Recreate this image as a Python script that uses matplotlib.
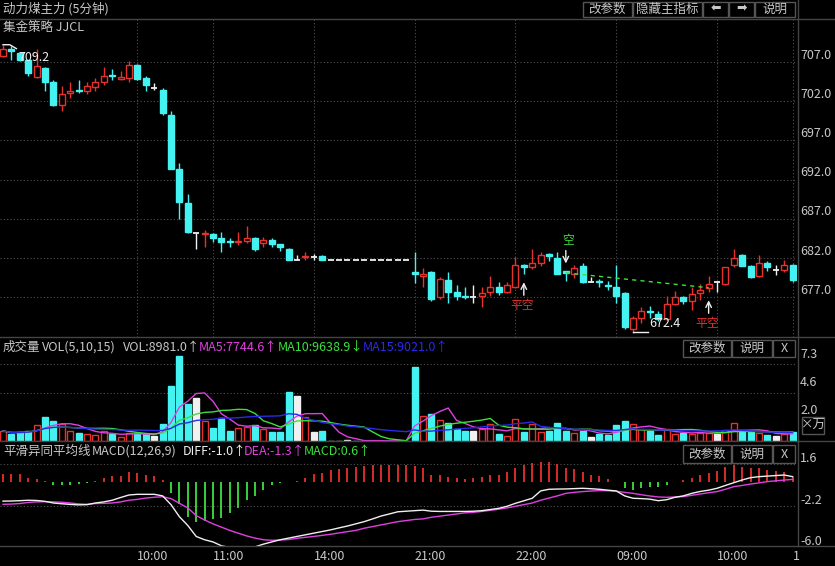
import matplotlib
matplotlib.use("Agg")
import matplotlib.pyplot as plt
import numpy as np
import pandas as pd
from matplotlib.patches import Rectangle
from matplotlib.lines import Line2D
from matplotlib.transforms import blended_transform_factory

plt.rcParams['font.family'] = ['Noto Sans CJK SC', 'DejaVu Sans']

# 5-minute bars
opens = [707.7, 708.6, 708.2, 707.2, 705.1, 706.2, 704.4, 701.5, 703.0, 703.4,
         703.3, 703.8, 704.5, 705.3, 704.8, 704.9, 706.6, 705.0, 703.7, 703.4,
         700.2, 693.4, 689.0, 685.2, 685.0, 685.0, 684.5, 684.2, 684.0, 684.2,
         684.6, 683.9, 684.3, 683.8, 683.1, 681.7, 682.1, 682.1, 682.2, 681.7,
         681.7, 681.7, 681.7, 681.7, 681.7, 681.7, 681.7, 681.7, 681.7, 680.2,
         679.7, 680.2, 677.0, 679.2, 677.6, 677.2, 677.0, 677.2, 677.6, 678.3,
         677.6, 678.3, 681.1, 680.8, 681.4, 682.5, 682.0, 680.3, 680.0, 681.0,
         678.9, 679.0, 678.6, 678.3, 677.5, 673.0, 674.3, 675.3, 674.9, 674.2,
         676.1, 677.0, 676.5, 677.5, 678.2, 678.9, 678.7, 681.1, 682.4, 681.0,
         679.7, 681.4, 680.5, 680.5, 681.1]
highs = [709.2, 709.0, 708.3, 707.3, 708.6, 706.3, 704.7, 703.9, 704.4, 704.7,
         704.5, 704.9, 706.3, 706.1, 705.8, 707.1, 706.7, 705.2, 704.3, 703.7,
         700.7, 694.1, 690.2, 685.2, 685.6, 685.2, 685.3, 684.5, 685.3, 686.1,
         684.7, 684.7, 684.6, 683.8, 683.3, 682.4, 682.8, 682.5, 682.4, 681.7,
         681.7, 681.7, 681.7, 681.7, 681.7, 681.7, 681.7, 681.7, 681.7, 682.8,
         680.7, 680.3, 679.6, 680.2, 678.5, 678.3, 678.5, 678.3, 679.7, 678.9,
         678.9, 682.1, 681.2, 683.2, 682.8, 682.6, 682.8, 680.3, 681.1, 681.3,
         679.6, 679.3, 679.0, 681.1, 677.6, 674.6, 675.7, 675.9, 675.2, 677.1,
         677.8, 677.2, 678.3, 678.7, 679.7, 678.9, 680.9, 683.1, 682.5, 681.1,
         682.4, 681.6, 681.1, 681.7, 681.2]
lows = [707.6, 707.3, 707.1, 705.2, 705.0, 703.3, 701.4, 700.8, 702.4, 703.0,
        702.9, 703.3, 704.1, 704.7, 704.7, 704.4, 704.7, 703.3, 703.4, 700.2,
        693.3, 687.0, 685.2, 683.2, 683.4, 684.0, 682.8, 683.4, 683.6, 683.9,
        682.9, 683.4, 683.4, 682.9, 681.7, 681.7, 681.8, 681.7, 681.8, 681.7,
        681.7, 681.7, 681.7, 681.7, 681.7, 681.7, 681.7, 681.7, 681.7, 678.8,
        678.3, 676.5, 676.8, 676.2, 676.6, 676.8, 676.2, 675.7, 677.1, 677.3,
        677.5, 678.2, 680.0, 680.6, 681.0, 681.6, 680.0, 679.0, 679.4, 678.8,
        678.9, 678.3, 677.9, 676.2, 673.0, 672.4, 673.7, 674.4, 674.0, 674.1,
        676.0, 676.1, 675.4, 676.6, 677.7, 677.6, 678.6, 680.8, 681.0, 679.5,
        679.6, 680.3, 679.8, 680.2, 678.9]
closes = [708.6, 708.4, 707.2, 705.6, 706.5, 704.5, 701.5, 702.9, 703.3, 703.3,
          703.9, 704.5, 705.2, 705.2, 705.1, 706.6, 704.8, 704.0, 703.7, 700.5,
          693.4, 689.2, 685.3, 685.2, 685.2, 684.6, 684.0, 684.0, 684.2, 684.6,
          683.2, 684.3, 683.8, 683.4, 681.7, 681.7, 682.2, 682.1, 681.8, 681.7,
          681.7, 681.7, 681.7, 681.7, 681.7, 681.7, 681.7, 681.7, 681.7, 680.0,
          680.0, 676.8, 679.3, 677.6, 677.2, 677.0, 677.0, 677.5, 678.3, 677.6,
          678.5, 681.1, 680.8, 681.4, 682.4, 682.2, 680.0, 680.1, 680.7, 678.9,
          678.9, 678.9, 678.4, 677.2, 673.2, 674.3, 675.3, 675.1, 674.2, 676.1,
          677.0, 676.5, 677.4, 677.9, 678.7, 678.9, 680.8, 682.0, 681.0, 679.6,
          681.3, 680.8, 680.5, 681.1, 679.2]

# volume in 万 (10k lots)
volumes = [0.95, 0.67, 0.81, 0.95, 1.52, 2.26, 1.90, 1.59, 0.95, 0.79,
           0.67, 0.57, 0.95, 0.67, 0.35, 0.79, 0.79, 0.67, 0.48, 1.62,
           5.27, 8.10, 3.50, 4.12, 1.90, 1.27, 2.16, 0.98, 1.27, 1.36,
           1.52, 1.14, 0.89, 0.89, 4.64, 4.29, 2.31, 0.89, 0.95, 0.02,
           0.03, 0.10, 0.01, 0.02, 0.01, 0.02, 0.01, 0.02, 0.03, 7.08,
           2.38, 2.57, 2.00, 1.69, 1.14, 0.95, 0.95, 1.14, 1.59, 0.67,
           0.48, 2.07, 0.89, 1.59, 0.89, 0.95, 1.69, 0.95, 0.79, 0.95,
           0.41, 0.67, 0.57, 1.52, 1.90, 1.59, 1.14, 0.98, 0.57, 1.14,
           0.67, 0.79, 0.67, 0.79, 0.79, 0.67, 1.05, 1.69, 0.89, 0.89,
           0.79, 0.57, 0.48, 0.67, 0.90]

diff = [-1.78, -1.77, -1.74, -1.70, -1.72, -1.80, -1.95, -2.02, -2.08, -2.12,
        -2.10, -1.95, -1.85, -1.70, -1.45, -1.22, -1.16, -1.16, -1.16, -1.30,
        -2.10, -3.20, -4.00, -5.00, -5.30, -5.50, -5.85, -6.00, -6.10, -6.10,
        -5.95, -5.70, -5.50, -5.30, -5.15, -5.00, -4.85, -4.70, -4.55, -4.40,
        -4.22, -4.05, -3.85, -3.65, -3.40, -3.14, -2.95, -2.75, -2.70, -2.65,
        -2.60, -2.70, -2.72, -2.72, -2.72, -2.72, -2.70, -2.65, -2.55, -2.44,
        -2.25, -1.98, -1.75, -1.52, -0.85, -0.70, -0.68, -0.67, -0.64, -0.61,
        -0.65, -0.70, -0.78, -0.85, -1.30, -1.52, -1.55, -1.60, -1.74, -1.65,
        -1.43, -1.30, -1.07, -0.90, -0.78, -0.61, -0.35, -0.10, 0.15, 0.36,
        0.45, 0.50, 0.55, 0.60, 0.45]
dea = [-2.07, -2.05, -2.00, -1.90, -1.85, -1.83, -1.85, -1.88, -1.95, -2.03,
       -2.07, -2.00, -1.98, -1.95, -1.85, -1.70, -1.62, -1.50, -1.43, -1.38,
       -1.55, -1.98, -2.40, -3.10, -3.50, -3.85, -4.15, -4.45, -4.70, -4.95,
       -5.15, -5.30, -5.35, -5.32, -5.28, -5.17, -5.08, -5.00, -4.90, -4.80,
       -4.68, -4.56, -4.45, -4.25, -4.10, -3.95, -3.80, -3.65, -3.55, -3.45,
       -3.40, -3.25, -3.15, -3.05, -2.95, -2.85, -2.80, -2.72, -2.62, -2.52,
       -2.40, -2.25, -2.10, -1.95, -1.70, -1.50, -1.30, -1.07, -0.98, -0.91,
       -0.86, -0.82, -0.83, -0.88, -0.98, -1.07, -1.20, -1.31, -1.40, -1.43,
       -1.40, -1.37, -1.25, -1.13, -1.02, -0.91, -0.70, -0.46, -0.35, -0.22,
       -0.12, 0.00, 0.07, 0.14, 0.20]
macd = [0.67, 0.67, 0.67, 0.36, 0.20, 0.06, -0.33, -0.33, -0.30, -0.18,
        -0.09, 0.06, 0.30, 0.50, 0.50, 0.88, 0.82, 0.58, 0.50, 0.10,
        -1.00, -2.07, -3.20, -3.70, -3.60, -3.45, -3.36, -2.90, -2.40, -1.70,
        -1.30, -0.80, -0.33, -0.09, -0.03, 0.06, 0.36, 0.67, 0.76, 1.03,
        1.12, 1.27, 1.33, 1.42, 1.48, 1.50, 1.50, 1.50, 1.50, 1.45,
        1.20, 0.64, 0.60, 0.45, 0.33, 0.24, 0.30, 0.40, 0.60, 0.64,
        0.85, 1.25, 1.50, 1.70, 1.82, 1.76, 1.60, 1.20, 1.15, 0.85,
        0.64, 0.48, 0.24, -0.06, -0.60, -0.73, -0.60, -0.52, -0.52, -0.30,
        -0.06, 0.10, 0.30, 0.60, 0.80, 1.00, 1.30, 1.50, 1.36, 1.25,
        1.20, 1.06, 0.94, 0.85, 0.40]

price_ticks = [707.0, 702.0, 697.0, 692.0, 687.0, 682.0, 677.0]
vol_ticks = [7.3, 4.6, 2.0]
macd_ticks = [1.6, -2.2, -6.0]
xtick_idx = [16, 25, 37, 49, 61, 73, 85, 94]
xtick_lab = ['10:00', '11:00', '14:00', '21:00', '22:00', '09:00', '10:00', '1']

sig_idx = [62, 67, 84]
sig_txt = ['平空', '空', '平空']
sig_dir = [1, -1, 1]   # 1 = buy-to-cover arrow below, -1 = short arrow above

RED = '#e8302c'
CYAN = '#45f2f2'
WHITE = '#f0f0f0'
MAG = '#e040e0'
GRN = '#3ce03c'
BLU = '#2a2ae8'
TXT = '#c8c8c8'
LINE = '#444444'
GRID = '#505050'

W, H = 835, 566
fig = plt.figure(figsize=(W / 100, H / 100), dpi=100, facecolor='black')


def fx(px):
    return px / W


def fy(py):
    return 1 - py / H


ax = fig.add_axes([0, fy(337), fx(797), (337 - 19) / H])
axv = fig.add_axes([0, fy(441), fx(797), (441 - 337) / H])
axm = fig.add_axes([0, fy(546), fx(797), (546 - 441) / H])
for a in (ax, axv, axm):
    a.set_facecolor('black')
    for s in a.spines.values():
        s.set_visible(False)
    a.set_xticks([])
    a.set_yticks([])
    a.set_xlim(-0.357, 94.52)

ax.set_ylim(671.92, 712.48)
axv.set_ylim(0, 104 / 10.5)
axm.set_ylim(-5.87, 3.70)

n = len(closes)
x = np.arange(n)
bw = 0.72

# grids
for p in price_ticks:
    ax.axhline(p, color=GRID, ls=(0, (1, 2)), lw=0.8, zorder=0)
for i in xtick_idx:
    ax.axvline(i, color=GRID, ls=(0, (1, 2)), lw=0.8, zorder=0)
for v in vol_ticks[:2]:
    axv.axhline(v, color=GRID, ls=(0, (1, 2)), lw=0.8, zorder=0)
for v in macd_ticks[:2]:
    axm.axhline(v, color=GRID, ls=(0, (1, 2)), lw=0.8, zorder=0)


def bar_color(i):
    if closes[i] > opens[i]:
        return RED
    if closes[i] < opens[i]:
        return CYAN
    return WHITE


# candles
for i in range(n):
    o, h, l, c = opens[i], highs[i], lows[i], closes[i]
    col = bar_color(i)
    top, bot = max(o, c), min(o, c)
    if h > top:
        ax.vlines(i, top, h, color=col, lw=1, zorder=2)
    if l < bot:
        ax.vlines(i, l, bot, color=col, lw=1, zorder=2)
    if c == o:
        ax.hlines(o, i - bw / 2, i + bw / 2, color=col, lw=1.3, zorder=3)
    else:
        face = 'black' if c > o else col
        ax.add_patch(Rectangle((i - bw / 2, bot), bw, top - bot, facecolor=face,
                               edgecolor=col, lw=1, zorder=3))

# high / low markers
hi = int(np.argmax(highs))
lo = int(np.argmin(lows))
ax.plot([hi, hi + 0.8, hi + 1.6], [highs[hi], highs[hi], highs[hi] - 0.5], color=WHITE, lw=1, zorder=4)
ax.text(hi + 1.8, highs[hi] - 1.6, f'{highs[hi]:.1f}', color=WHITE, fontsize=9, va='center', ha='left', zorder=5)
ax.plot([lo, lo + 1.8], [lows[lo] + 0.15, lows[lo] + 0.15], color=WHITE, lw=1, zorder=4)
ax.text(lo + 1.9, lows[lo] + 1.2, f'{lows[lo]:.1f}', color=WHITE, fontsize=9, va='center', ha='left', zorder=5)

# signals
for i, t, d in zip(sig_idx, sig_txt, sig_dir):
    if d == 1:
        tip = lows[i] - 1.1
        base = tip - 1.65
        tcol = RED
    else:
        tip = highs[i] + 1.0
        base = tip + 1.65
        tcol = GRN
    ax.annotate('', xy=(i, tip), xytext=(i, base),
                arrowprops=dict(arrowstyle='->', color=WHITE, lw=1, shrinkA=0, shrinkB=0), zorder=5)
    ax.text(i - 0.2 * d, base - 1.25 * d, t, color=tcol, fontsize=8.5, ha='center', va='center', zorder=5)

ax.plot([sig_idx[1], sig_idx[2]], [closes[sig_idx[1]], opens[sig_idx[2]]],
        color=GRN, ls=(0, (3, 3)), lw=1, zorder=4)

# price labels
for p in price_ticks:
    ax.annotate(f'{p:.1f}', xy=(1.004, p), xycoords=('axes fraction', 'data'),
                xytext=(0, 5), textcoords='offset points', color=TXT, fontsize=9,
                va='center', ha='left', annotation_clip=False)

# volume
for i in range(n):
    col = bar_color(i)
    face = 'black' if col == RED else col
    axv.add_patch(Rectangle((i - bw / 2, 0), bw, volumes[i], facecolor=face,
                            edgecolor=col, lw=1, zorder=2))
vs = pd.Series(volumes)
for w, col in [(5, MAG), (10, GRN), (15, BLU)]:
    axv.plot(x, vs.rolling(w, min_periods=1).mean(), color=col, lw=1, zorder=3)
for v in vol_ticks:
    axv.annotate(f'{v:.1f}', xy=(1.004, v), xycoords=('axes fraction', 'data'),
                 xytext=(0, 7), textcoords='offset points', color=TXT, fontsize=9,
                 va='center', ha='left', annotation_clip=False)

# MACD
for i in range(n):
    axm.vlines(i, 0, macd[i], color=RED if macd[i] > 0 else GRN, lw=1.3, zorder=2)
axm.plot(x, dea, color=MAG, lw=1, zorder=3)
axm.plot(x, diff, color=WHITE, lw=1, zorder=4)
for v in macd_ticks:
    axm.annotate(f'{v:.1f}', xy=(1.004, v), xycoords=('axes fraction', 'data'),
                 xytext=(0, 4), textcoords='offset points', color=TXT, fontsize=9,
                 va='center', ha='left', annotation_clip=False)

# x labels
tr = blended_transform_factory(axm.transData, fig.transFigure)
for i, lab in zip(xtick_idx, xtick_lab):
    axm.text(i, fy(557), lab, transform=tr, color=TXT, fontsize=9, ha='left', va='center')

# frame lines
for py in (18.5, 337, 441, 546):
    fig.add_artist(Line2D([0, 1], [fy(py), fy(py)], transform=fig.transFigure, color=LINE, lw=1))
fig.add_artist(Line2D([fx(797.5), fx(797.5)], [fy(0), fy(546)], transform=fig.transFigure, color=LINE, lw=1))


def button(x0, x1, y0, y1, label, **kw):
    fig.add_artist(Rectangle((fx(x0), fy(y1)), fx(x1) - fx(x0), (y1 - y0) / H,
                             transform=fig.transFigure, facecolor='black', edgecolor='#555555', lw=1))
    fig.text(fx((x0 + x1) / 2), fy((y0 + y1) / 2), label, color=TXT, fontsize=9,
             ha='center', va='center', **kw)


button(583, 632, 1.5, 17, '改参数')
button(633, 702, 1.5, 17, '隐藏主指标')
button(703, 728, 1.5, 17, '⬅', family=['DejaVu Sans'])
button(729, 754, 1.5, 17, '➡', family=['DejaVu Sans'])
button(755, 795, 1.5, 17, '说明')
for y0, y1 in ((340, 357), (445, 463)):
    button(683, 731, y0, y1, '改参数')
    button(732, 772, y0, y1, '说明')
    button(773, 795, y0, y1, 'X')
button(802, 824, 417, 434, '×万')

# header texts
fig.text(fx(3), fy(9), '动力煤主力 (5分钟)', color=TXT, fontsize=9, va='center')
fig.text(fx(3), fy(27), '集金策略 JJCL', color=TXT, fontsize=9, va='center')

for px, s, col in [(3, '成交量', TXT), (42, 'VOL(5,10,15)', TXT), (123, 'VOL:8981.0↑', TXT),
                   (199, 'MA5:7744.6↑', MAG), (278, 'MA10:9638.9↓', GRN), (363, 'MA15:9021.0↑', BLU)]:
    fig.text(fx(px), fy(347), s, color=col, fontsize=9, va='center')

for px, s, col in [(3, '平滑异同平均线', TXT), (92, 'MACD(12,26,9)', TXT), (183, 'DIFF:-1.0↑', WHITE),
                   (244, 'DEA:-1.3↑', MAG), (304, 'MACD:0.6↑', GRN)]:
    fig.text(fx(px), fy(451), s, color=col, fontsize=9, va='center')

fig.savefig('out.png', dpi=100, facecolor='black')
